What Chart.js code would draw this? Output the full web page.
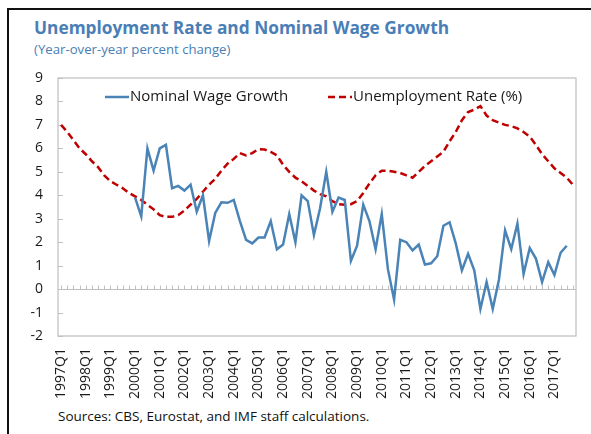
<!DOCTYPE html>
<html>
<head>
<meta charset="utf-8">
<script src="https://cdn.jsdelivr.net/npm/chart.js@4.4.1/dist/chart.umd.min.js"></script>
<style>
  html, body { margin: 0; padding: 0; background: #fff; }
  body { width: 591px; height: 434px; position: relative; overflow: hidden; font-family: "Open Sans", sans-serif; }
  #frame { position: absolute; left: 7px; top: 8px; width: 620px; height: 460px; border-left: 2px solid #111; border-top: 2px solid #111; }
  #title { position: absolute; left: 34px; top: 16px; font-weight: bold; font-size: 17.3px; color: #4a7eb6; white-space: nowrap; }
  #subtitle { position: absolute; left: 34px; top: 40px; font-size: 13.2px; color: #4a7eb6; white-space: nowrap; }
  #source { position: absolute; left: 58px; top: 407px; font-size: 13.5px; color: #111; white-space: nowrap; }
  #wrap { position: absolute; left: 0; top: 0; width: 591px; height: 405px; }
</style>
</head>
<body>
<div id="frame"></div>
<div id="title">Unemployment Rate and Nominal Wage Growth</div>
<div id="subtitle">(Year-over-year percent change)</div>
<div id="wrap"><canvas id="chart" width="591" height="405"></canvas></div>
<div id="source">Sources: CBS, Eurostat, and IMF staff calculations.</div>
<script>
// quarters 1997Q1 .. 2017Q4
var quarters = [];
for (var yr = 1997; yr <= 2017; yr++) {
  for (var q = 1; q <= 4; q++) quarters.push(yr + 'Q' + q);
}

// nominal wage growth, starts 2000Q1, ends 2017Q3
var wageGrowth = [
  null, null, null, null,   // 1997
  null, null, null, null,   // 1998
  null, null, null, null,   // 1999
  3.9, 3.1, 6.0, 5.05,      // 2000
  6.0, 6.15, 4.3, 4.4,      // 2001
  4.2, 4.45, 3.3, 4.0,      // 2002
  2.05, 3.25, 3.7, 3.68,    // 2003
  3.8, 2.9, 2.1, 1.95,      // 2004
  2.2, 2.2, 2.9, 1.7,       // 2005
  1.9, 3.2, 2.0, 4.0,       // 2006
  3.75, 2.3, 3.45, 5.0,     // 2007
  3.3, 3.9, 3.8, 1.2,       // 2008
  1.85, 3.6, 2.9, 1.7,      // 2009
  3.2, 0.85, -0.45, 2.1,    // 2010
  2.0, 1.65, 1.9, 1.05,     // 2011
  1.1, 1.4, 2.7, 2.85,      // 2012
  1.95, 0.8, 1.5, 0.8,      // 2013
  -0.85, 0.3, -0.85, 0.4,   // 2014
  2.5, 1.7, 2.8, 0.65,      // 2015
  1.75, 1.3, 0.3, 1.15,     // 2016
  0.6, 1.55, 1.85, null     // 2017
];

// unemployment rate (%)
var unemployment = [
  7.0, 6.7, 6.35, 6.0,      // 1997
  5.75, 5.45, 5.2, 4.85,    // 1998
  4.6, 4.45, 4.3, 4.1,      // 1999
  3.95, 3.8, 3.6, 3.4,      // 2000
  3.15, 3.08, 3.08, 3.15,   // 2001
  3.35, 3.6, 3.85, 4.15,    // 2002
  4.45, 4.7, 5.05, 5.35,    // 2003
  5.55, 5.8, 5.7, 5.8,      // 2004
  5.97, 5.95, 5.85, 5.7,    // 2005
  5.3, 5.0, 4.75, 4.6,      // 2006
  4.4, 4.2, 4.05, 3.95,     // 2007
  3.75, 3.62, 3.6, 3.62,    // 2008
  3.75, 4.1, 4.5, 4.85,     // 2009
  5.05, 5.05, 5.0, 4.95,    // 2010
  4.85, 4.75, 5.0, 5.25,    // 2011
  5.45, 5.65, 5.85, 6.3,    // 2012
  6.7, 7.2, 7.55, 7.65,     // 2013
  7.8, 7.4, 7.2, 7.1,       // 2014
  7.0, 6.95, 6.85, 6.7,     // 2015
  6.5, 6.15, 5.75, 5.45,    // 2016
  5.15, 4.95, 4.75, 4.45    // 2017
];

var yTicks = [-2, -1, 0, 1, 2, 3, 4, 5, 6, 7, 8, 9];

var tickFont = { family: 'Open Sans', size: 14 };

// plot frame, inward y ticks, zero line with small ticks, and the in-plot legend
var decor = {
  id: 'decor',
  beforeDatasetsDraw: function (chart) {
    var ctx = chart.ctx, a = chart.chartArea, x = chart.scales.x, y = chart.scales.y;
    ctx.save();
    ctx.strokeStyle = '#bfbfbf';
    ctx.lineWidth = 1.2;
    ctx.strokeRect(a.left, a.top, a.right - a.left, a.bottom - a.top);
    ctx.lineWidth = 1;
    ctx.beginPath();
    yTicks.forEach(function (v) {
      var py = Math.round(y.getPixelForValue(v)) + 0.5;
      ctx.moveTo(a.left, py);
      ctx.lineTo(a.left + 5, py);
    });
    var y0 = Math.round(y.getPixelForValue(0)) + 0.5;
    ctx.moveTo(a.left, y0);
    ctx.lineTo(a.right, y0);
    for (var i = 0; i < quarters.length; i++) {
      var px = Math.round(x.getPixelForValue(i)) + 0.5;
      ctx.moveTo(px, y0);
      ctx.lineTo(px, y0 - 4);
    }
    ctx.stroke();
    ctx.restore();
  },
  afterDraw: function (chart) {
    var ctx = chart.ctx;
    var spots = [[105, 97], [328, 97]];
    ctx.save();
    ctx.font = '15px "Open Sans"';
    ctx.textBaseline = 'middle';
    ctx.fillStyle = '#1a1a1a';
    chart.data.datasets.forEach(function (ds, k) {
      var sx = spots[k][0], sy = spots[k][1];
      ctx.strokeStyle = ds.borderColor;
      ctx.lineWidth = ds.borderWidth;
      ctx.setLineDash(ds.borderDash || []);
      ctx.beginPath();
      ctx.moveTo(sx, sy);
      ctx.lineTo(sx + 24, sy);
      ctx.stroke();
      ctx.fillText(ds.label, sx + 25, sy);
    });
    ctx.restore();
  }
};

new Chart(document.getElementById('chart'), {
  type: 'line',
  data: {
    labels: quarters,
    datasets: [
      {
        label: 'Nominal Wage Growth',
        data: wageGrowth,
        borderColor: '#4a83b6',
        borderWidth: 2.5,
        pointRadius: 0,
        tension: 0
      },
      {
        label: 'Unemployment Rate (%)',
        data: unemployment,
        borderColor: '#c00000',
        borderWidth: 2.5,
        borderDash: [7, 4],
        pointRadius: 0,
        tension: 0
      }
    ]
  },
  options: {
    responsive: false,
    animation: false,
    layout: { padding: { top: 78, right: 15, left: 0, bottom: 0 } },
    plugins: {
      legend: { display: false },
      tooltip: { enabled: false }
    },
    scales: {
      x: {
        offset: true,
        grid: { display: false, drawTicks: false },
        border: { display: false },
        ticks: {
          autoSkip: false,
          minRotation: 90,
          maxRotation: 90,
          padding: 12,
          color: '#1a1a1a',
          font: tickFont,
          callback: function (v, i) { return i % 4 === 0 ? quarters[i] : ''; }
        },
        afterFit: function (s) {
          s.height = 69;
          s.paddingLeft = 0;
          s.paddingRight = 0;
        }
      },
      y: {
        min: -2,
        max: 9,
        grid: { display: false, drawTicks: false },
        border: { display: false },
        ticks: { stepSize: 1, padding: 15, color: '#1a1a1a', font: tickFont },
        afterFit: function (s) { s.width = 58; }
      }
    }
  },
  plugins: [decor]
});
</script>
</body>
</html>
